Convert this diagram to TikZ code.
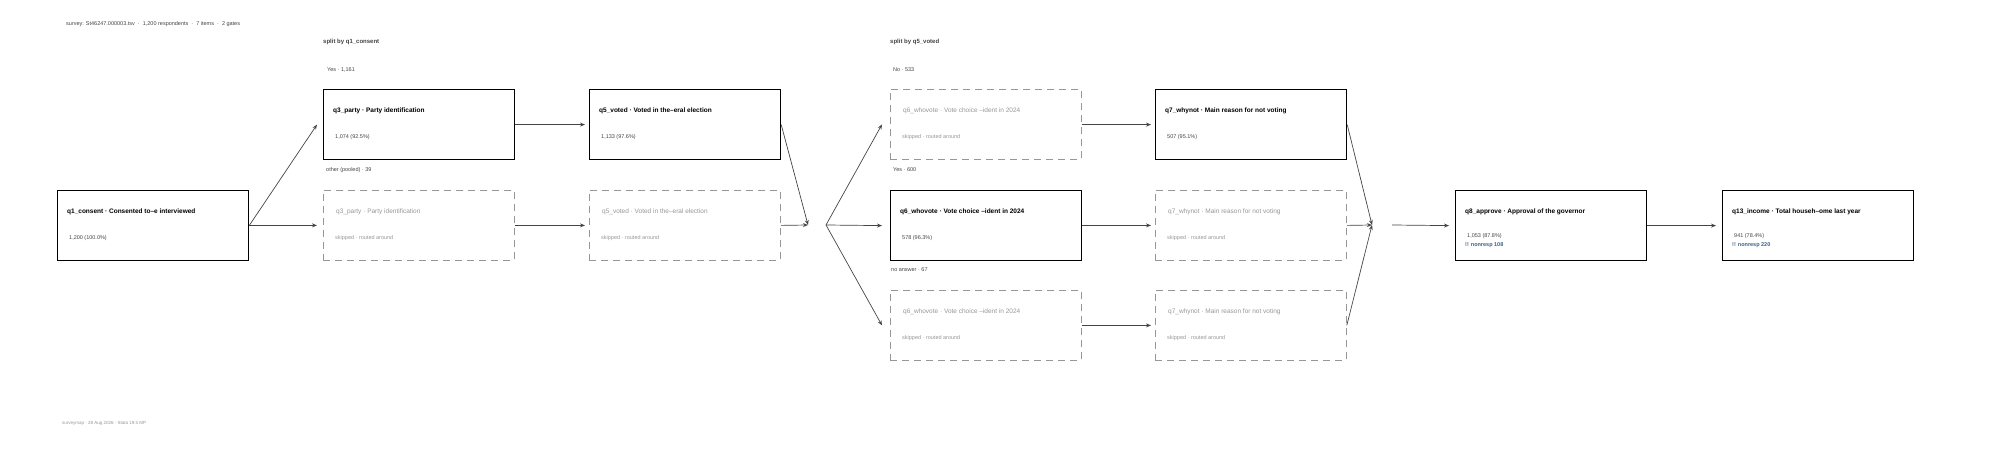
\documentclass[tikz,border=0pt]{standalone}
\usepackage{fontspec}
\setmainfont{Liberation Sans}
\usetikzlibrary{arrows.meta, positioning}
\definecolor{linegray}{RGB}{68, 68, 68}
\definecolor{skipgray}{RGB}{150, 150, 150}
\definecolor{nrblue}{RGB}{58, 95, 138}

\begin{document}
\begin{tikzpicture}[x=1pt, y=-1pt]
    % Styles
    \tikzset{
        box/.style = {rectangle, draw=black, line width=1.2pt, minimum width=191pt,
            minimum height=70pt, anchor=north west, inner sep=0pt},
        skip/.style = {rectangle, draw=skipgray, dashed, dash pattern=on 7pt off 5pt,
            line width=0.8pt, minimum width=191pt, minimum height=70pt, anchor=north west, inner sep=0pt},
        title/.style = {anchor=west, font=\fontsize{6.5}{7}\selectfont\bfseries, inner sep=0pt},
        stitle/.style = {anchor=west, font=\fontsize{6.5}{7}\selectfont, text=skipgray, inner sep=0pt},
        count/.style = {anchor=west, font=\fontsize{5.5}{6}\selectfont, text=linegray, inner sep=0pt},
        scount/.style = {anchor=west, font=\fontsize{5.5}{6}\selectfont, text=skipgray, inner sep=0pt},
        nonresp/.style = {anchor=west, font=\fontsize{5.5}{6}\selectfont\bfseries, text=nrblue, inner sep=0pt},
        note/.style = {anchor=west, font=\fontsize{5.5}{6}\selectfont, text=linegray, inner sep=0pt},
        split/.style = {anchor=west, font=\fontsize{6}{7}\selectfont\bfseries, text=linegray, inner sep=0pt},
        arrow/.style = {line width=0.7pt, linegray, -{Stealth[length=5pt, width=4pt, open]}},
    }
    \useasboundingbox (0,0) rectangle (2000,449);

    % Header and footer
    \node [note] (head) at (66,24) {survey: St46247.000003.tsv \ · \ 1,200 respondents \ · \ 7 items \ · \ 2 gates};
    \node [note, text=skipgray, font=\fontsize{4.5}{5}\selectfont] (foot) at (62,423) {surveymap · 28 Aug 2026 · Stata 19.5 MP};
    \node [split] (split1) at (323,42) {split by q1\_consent};
    \node [split] (split2) at (890,42) {split by q5\_voted};

    % Branch labels
    \node [note] (lyes1) at (327,70) {Yes · 1,161};
    \node [note] (loth1) at (326,170) {other (pooled) · 39};
    \node [note] (lno2) at (893,70) {No · 533};
    \node [note] (lyes2) at (893,170) {Yes · 600};
    \node [note] (lna2) at (891,270) {no answer · 67};

    % Boxes
    \node [box] (q1) at (57,190) {};
    \node [title] at ([shift={(10,22)}]q1.north west) {q1\_consent · Consented to–e interviewed};
    \node [count] at ([shift={(12,48)}]q1.north west) {1,200 (100.0\%)};

    \node [box] (q3) at (323,89) {};
    \node [title] at ([shift={(10,22)}]q3.north west) {q3\_party · Party identification};
    \node [count] at ([shift={(12,48)}]q3.north west) {1,074 (92.5\%)};
    \node [skip] (q3s) at (323,190) {};
    \node [stitle] at ([shift={(13,22)}]q3s.north west) {q3\_party · Party identification};
    \node [scount] at ([shift={(12,48)}]q3s.north west) {skipped · routed around};

    \node [box] (q5) at (589,89) {};
    \node [title] at ([shift={(10,22)}]q5.north west) {q5\_voted · Voted in the–eral election};
    \node [count] at ([shift={(12,48)}]q5.north west) {1,133 (97.6\%)};
    \node [skip] (q5s) at (589,190) {};
    \node [stitle] at ([shift={(13,22)}]q5s.north west) {q5\_voted · Voted in the–eral election};
    \node [scount] at ([shift={(12,48)}]q5s.north west) {skipped · routed around};

    \node [skip] (q6s) at (890,89) {};
    \node [stitle] at ([shift={(13,22)}]q6s.north west) {q6\_whovote · Vote choice –ident in 2024};
    \node [scount] at ([shift={(12,48)}]q6s.north west) {skipped · routed around};
    \node [box] (q6) at (890,190) {};
    \node [title] at ([shift={(10,22)}]q6.north west) {q6\_whovote · Vote choice –ident in 2024};
    \node [count] at ([shift={(12,48)}]q6.north west) {578 (96.3\%)};
    \node [skip] (q6n) at (890,290) {};
    \node [stitle] at ([shift={(13,22)}]q6n.north west) {q6\_whovote · Vote choice –ident in 2024};
    \node [scount] at ([shift={(12,48)}]q6n.north west) {skipped · routed around};

    \node [box] (q7) at (1155,89) {};
    \node [title] at ([shift={(10,22)}]q7.north west) {q7\_whynot · Main reason for not voting};
    \node [count] at ([shift={(12,48)}]q7.north west) {507 (95.1\%)};
    \node [skip] (q7s) at (1155,190) {};
    \node [stitle] at ([shift={(13,22)}]q7s.north west) {q7\_whynot · Main reason for not voting};
    \node [scount] at ([shift={(12,48)}]q7s.north west) {skipped · routed around};
    \node [skip] (q7n) at (1155,290) {};
    \node [stitle] at ([shift={(13,22)}]q7n.north west) {q7\_whynot · Main reason for not voting};
    \node [scount] at ([shift={(12,48)}]q7n.north west) {skipped · routed around};

    \node [box] (q8) at (1455,190) {};
    \node [title] at ([shift={(10,22)}]q8.north west) {q8\_approve · Approval of the governor};
    \node [count] at ([shift={(12,46)}]q8.north west) {1,053 (87.8\%)};
    \node [nonresp] at ([shift={(10,55)}]q8.north west) {!! nonresp 108};

    \node [box] (q13) at (1722,190) {};
    \node [title] at ([shift={(10,22)}]q13.north west) {q13\_income · Total househ–ome last year};
    \node [count] at ([shift={(12,46)}]q13.north west) {941 (78.4\%)};
    \node [nonresp] at ([shift={(10,55)}]q13.north west) {!! nonresp 220};

    % Junctions
    \coordinate (m1) at (808,225);
    \coordinate (s2) at (826,225);
    \coordinate (m2) at (1372,225);
    \coordinate (m2out) at (1392,225);

    % Arrows
    \draw [arrow] (q1.east) -- ([xshift=-6pt]q3.west);
    \draw [arrow] (q1.east) -- ([xshift=-6pt]q3s.west);
    \draw [arrow] (q3.east) -- ([xshift=-4pt]q5.west);
    \draw [arrow] (q3s.east) -- ([xshift=-4pt]q5s.west);
    \draw [arrow] (q5.east) -- (m1);
    \draw [arrow] (q5s.east) -- (m1);
    \draw [arrow] (s2) -- ([xshift=-8pt]q6s.west);
    \draw [arrow] (s2) -- ([xshift=-8pt]q6.west);
    \draw [arrow] (s2) -- ([xshift=-8pt]q6n.west);
    \draw [arrow] (q6s.east) -- ([xshift=-4pt]q7.west);
    \draw [arrow] (q6.east) -- ([xshift=-4pt]q7s.west);
    \draw [arrow] (q6n.east) -- ([xshift=-4pt]q7n.west);
    \draw [arrow] (q7.east) -- (m2);
    \draw [arrow] (q7s.east) -- (m2);
    \draw [arrow] (q7n.east) -- (m2);
    \draw [arrow] (m2out) -- ([xshift=-6pt]q8.west);
    \draw [arrow] (q8.east) -- ([xshift=-6pt]q13.west);
\end{tikzpicture}
\end{document}
